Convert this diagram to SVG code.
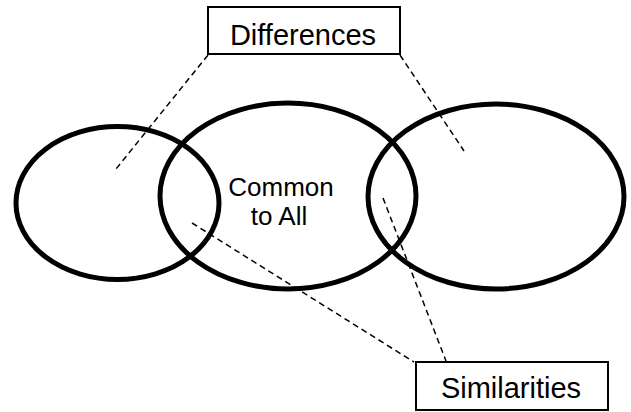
<svg xmlns="http://www.w3.org/2000/svg" width="631" height="412" viewBox="0 0 631 412">
<style>
.set{fill:none;stroke:#000;stroke-width:5}
.box{fill:#fff;stroke:#000;stroke-width:2}
.lead{fill:none;stroke:#000;stroke-width:1.5;stroke-dasharray:6 4}
text{font-family:"Liberation Sans",Arial,sans-serif;fill:#000}
.lbl{font-size:29px;text-anchor:middle}
.mid{font-size:26px;text-anchor:middle}
</style>
<rect width="631" height="412" fill="#fff"/>
<g id="set-left"><ellipse class="set" cx="117.5" cy="203" rx="101.5" ry="76.5"/></g>
<g id="set-middle"><ellipse class="set" cx="288" cy="196" rx="128" ry="93"/></g>
<g id="set-right"><ellipse class="set" cx="496" cy="196.5" rx="128" ry="92.5"/></g>
<g id="common"><text class="mid" x="281" y="196">Common</text><text class="mid" x="279" y="225">to All</text></g>
<g id="connectors">
<line class="lead" x1="208" y1="55" x2="116" y2="169"/>
<line class="lead" x1="400" y1="55" x2="464" y2="151"/>
<line class="lead" x1="192" y1="223" x2="414" y2="362"/>
<line class="lead" x1="383" y1="198" x2="446" y2="361"/>
</g>
<g id="differences"><rect class="box" x="208" y="7" width="192" height="47"/><text class="lbl" x="303" y="45">Differences</text></g>
<g id="similarities"><rect class="box" x="416" y="362" width="192" height="48"/><text class="lbl" x="511" y="398">Similarities</text></g>
</svg>
